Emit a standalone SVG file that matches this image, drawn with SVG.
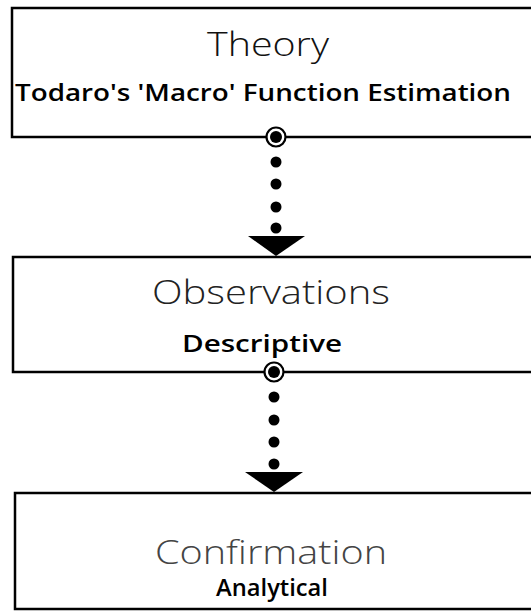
<svg xmlns="http://www.w3.org/2000/svg" width="531" height="612" viewBox="0 0 531 612">
<style>
.box{fill:#fff;stroke:#000;stroke-width:2.5}
.title{font-family:"Open Sans","Liberation Sans",sans-serif;font-weight:300;font-size:33px;text-anchor:middle}
.sub{font-family:"Open Sans","Liberation Sans",sans-serif;font-weight:600;font-size:23px;text-anchor:middle;fill:#000}
.dot{fill:#000}
.ring{fill:#fff;stroke:#000;stroke-width:2.2}
</style>
<rect width="531" height="612" fill="#fff"/>
<g id="theory">
<rect class="box" x="12" y="8" width="530" height="129"/>
<text class="title" x="268" y="56" fill="#111" textLength="122" lengthAdjust="spacingAndGlyphs">Theory</text>
<text class="sub" x="263" y="101" textLength="496" lengthAdjust="spacingAndGlyphs">Todaro's 'Macro' Function Estimation</text>
</g>
<g id="observations">
<rect class="box" x="13" y="257" width="530" height="115"/>
<text class="title" x="271" y="304" fill="#222" textLength="238" lengthAdjust="spacingAndGlyphs">Observations</text>
<text class="sub" x="262" y="352" textLength="160" lengthAdjust="spacingAndGlyphs">Descriptive</text>
</g>
<g id="confirmation">
<rect class="box" x="15" y="493" width="530" height="116"/>
<text class="title" x="271" y="564" fill="#444" textLength="232" lengthAdjust="spacingAndGlyphs">Confirmation</text>
<text class="sub" x="272" y="596" textLength="112" lengthAdjust="spacingAndGlyphs">Analytical</text>
</g>
<g id="connectors">
<circle class="ring" cx="276" cy="137" r="9.5"/>
<circle class="dot" cx="276" cy="137" r="6"/>
<circle class="dot" cx="276" cy="162" r="5.5"/>
<circle class="dot" cx="276" cy="184" r="5.5"/>
<circle class="dot" cx="276" cy="207" r="5.5"/>
<circle class="dot" cx="276" cy="228" r="5.5"/>
<polygon class="dot" points="248,236 305,236 276,256"/>
<circle class="ring" cx="274" cy="372" r="9.5"/>
<circle class="dot" cx="274" cy="372" r="6"/>
<circle class="dot" cx="274" cy="397" r="5.5"/>
<circle class="dot" cx="274" cy="420" r="5.5"/>
<circle class="dot" cx="274" cy="442" r="5.5"/>
<circle class="dot" cx="274" cy="464" r="5.5"/>
<polygon class="dot" points="245,472 303,472 274,492"/>
</g>
</svg>
